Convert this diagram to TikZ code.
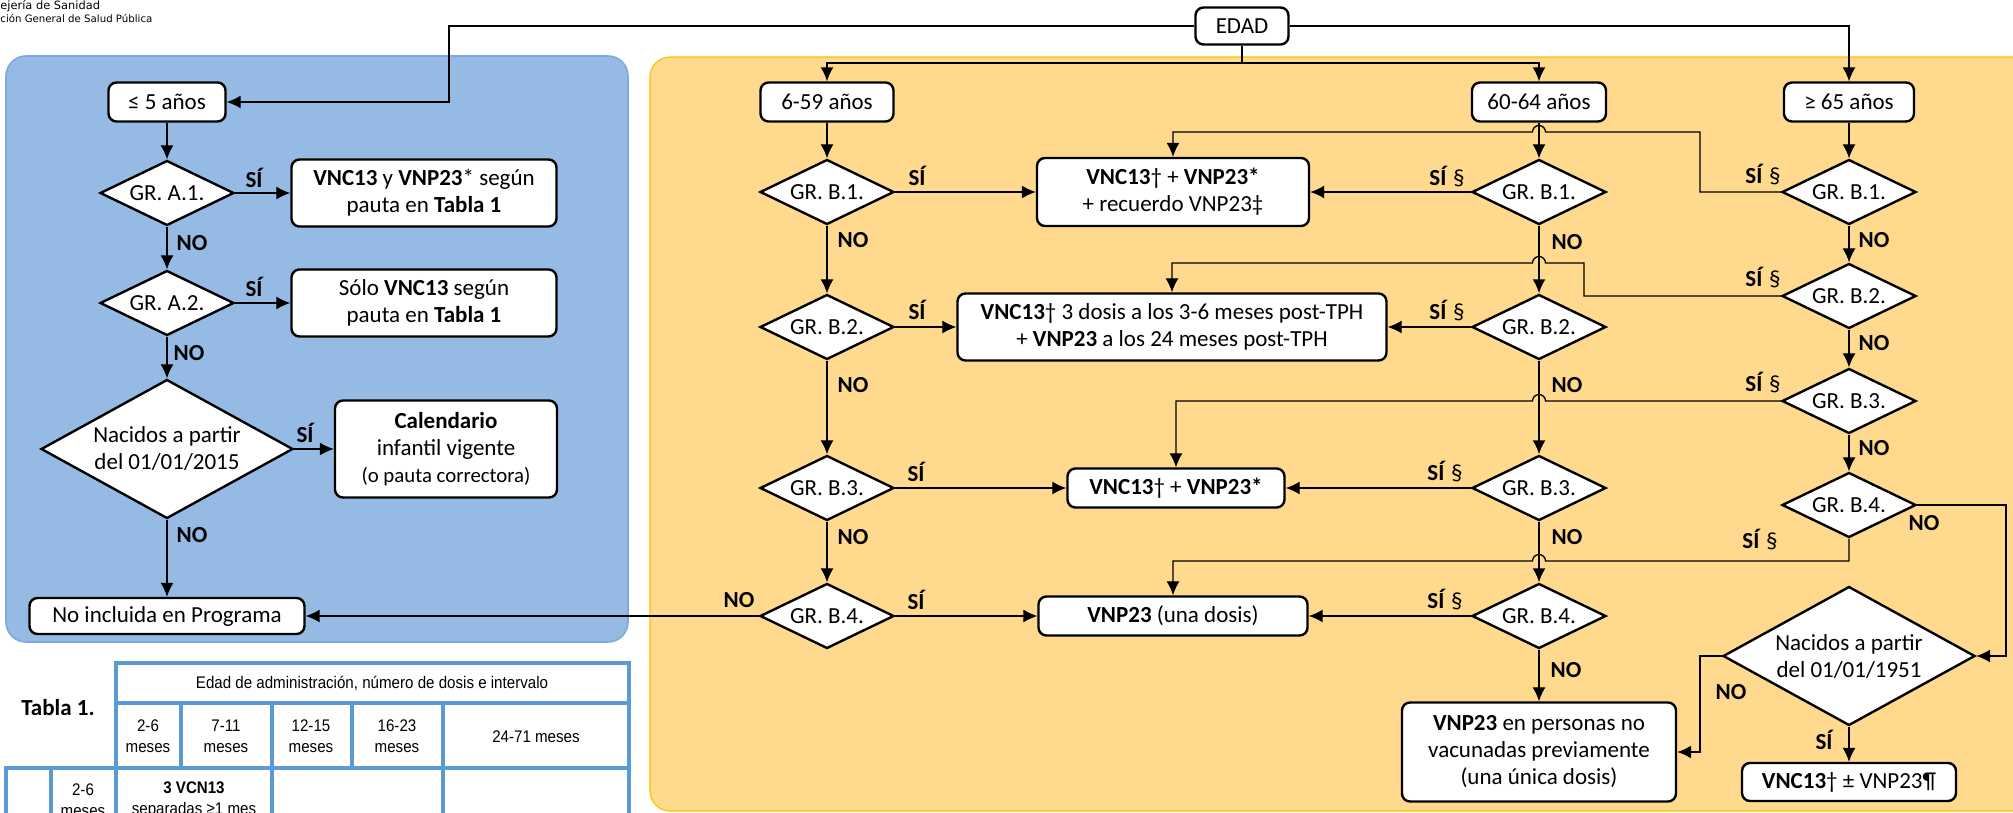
\documentclass[tikz,border=0pt]{standalone}
\usepackage{fontspec}
\setmainfont{Carlito}
\newfontfamily\tabfont[FakeStretch=0.9]{Liberation Sans}
\newfontfamily\logofont{DejaVu Sans}
\usetikzlibrary{shapes.geometric,arrows.meta}
\definecolor{panelblue}{HTML}{95BBE4}
\definecolor{paneledge}{HTML}{7EA9DC}
\definecolor{panelgold}{HTML}{FFD98E}
\definecolor{goldedge}{HTML}{FFC000}
\definecolor{tabblue}{HTML}{5B9BD5}
\newcommand{\mainfs}{\fontsize{11.5}{13.5}\selectfont}
\begin{document}
\begin{tikzpicture}[x=0.5pt,y=-0.5pt,>={Latex[length=7pt,width=6.5pt]},font=\mainfs,
  box/.style={draw,line width=1.2pt,rounded corners=4pt,fill=white,align=center,inner sep=1pt},
  cond/.style={diamond,draw,line width=1.2pt,fill=white,align=center,inner sep=0pt,shape aspect=1.8,minimum width=67pt,minimum height=32.5pt},
  bigcond/.style={cond,minimum width=126pt,minimum height=69.5pt},
  conn/.style={->,line width=0.65pt},
  lbl/.style={font=\mainfs\bfseries,inner sep=0pt},
  tab/.style={font=\tabfont\fontsize{8.4}{10.5}\selectfont,align=center,inner sep=0pt},
  tabline/.style={tabblue,line width=2pt}]
\useasboundingbox (0,0) rectangle (2013,813);
% header
\node[anchor=base west,inner sep=0pt,font=\logofont\fontsize{5.7}{6}\selectfont] (logoa) at (0,9.5) {ejería de Sanidad};
\node[anchor=base west,inner sep=0pt,font=\logofont\fontsize{5.1}{6}\selectfont] (logob) at (0,22.5) {ción General de Salud Pública};
% panels
\filldraw[fill=panelblue,draw=paneledge,line width=0.8pt,rounded corners=10pt] (6,56) rectangle (628,642);
\filldraw[fill=panelgold,draw=goldedge,line width=0.6pt,rounded corners=10pt] (650,57) rectangle (2040,811);
% age boxes
\node[box,minimum width=46.5pt,minimum height=18.5pt] (edad) at (1242,26) {EDAD};
\node[box,minimum width=58.5pt,minimum height=19.5pt] (le5) at (167,102) {≤ 5 años};
\node[box,minimum width=66.5pt,minimum height=19.5pt] (a659) at (827,102) {6-59 años};
\node[box,minimum width=67pt,minimum height=19.5pt] (a6064) at (1539,102) {60-64 años};
\node[box,minimum width=65pt,minimum height=19.5pt] (a65) at (1849,102) {≥ 65 años};
% children
\node[cond] (ga1) at (167,193) {GR. A.1.};
\node[cond] (ga2) at (167,303) {GR. A.2.};
\node[bigcond] (nac15) at (167,449) {Nacidos a partir\\del 01/01/2015};
\node[box,minimum width=132.5pt,minimum height=33.5pt] (ra1) at (424,193) {\textbf{VNC13} y \textbf{VNP23}* según\\pauta en \textbf{Tabla 1}};
\node[box,minimum width=132.5pt,minimum height=33.5pt] (ra2) at (424,303) {Sólo \textbf{VNC13} según\\pauta en \textbf{Tabla 1}};
\node[box,minimum width=111pt,minimum height=48.5pt] (cal) at (446,449) {\textbf{Calendario}\\infantil vigente\\{\fontsize{10.4}{12}\selectfont(o pauta correctora)}};
\node[box,minimum width=137.5pt,minimum height=18pt] (noinc) at (167,616) {No incluida en Programa};
% 6-59 and 60-64
\foreach \y/\g in {192/1,327/2,488/3,616/4}
{
    \node[cond] (gb\g a) at (827,\y) {GR. B.\g.};
    \node[cond] (gb\g b) at (1539,\y) {GR. B.\g.};
}
\node[box,minimum width=136pt,minimum height=34pt] (rb1) at (1173,192) {\textbf{VNC13}† + \textbf{VNP23*}\\+ recuerdo VNP23‡};
\node[box,minimum width=214.5pt,minimum height=33.5pt] (rb2) at (1172,327) {\textbf{VNC13}† 3 dosis a los 3-6 meses post-TPH\\+ \textbf{VNP23} a los 24 meses post-TPH};
\node[box,minimum width=108.5pt,minimum height=19.5pt] (rb3) at (1176,488) {\textbf{VNC13}† + \textbf{VNP23*}};
\node[box,minimum width=134.5pt,minimum height=19.5pt] (rb4) at (1173,616) {\textbf{VNP23} (una dosis)};
\node[box,minimum width=137pt,minimum height=49.5pt] (vnp) at (1539,752) {\textbf{VNP23} en personas no\\vacunadas previamente\\(una única dosis)};
% 65+
\foreach \y/\g in {192/1,296/2,401/3,505/4}
{
    \node[cond] (gb\g c) at (1849,\y) {GR. B.\g.};
}
\node[bigcond] (nac51) at (1849,656) {Nacidos a partir\\del 01/01/1951};
\node[box,minimum width=107pt,minimum height=19pt] (fin) at (1849,782) {\textbf{VNC13}† ± VNP23¶};
% connectors
\coordinate (split) at (1242,63);
\coordinate (turnk) at (449,102);
\coordinate (k1) at (1700,132);
\coordinate (k2) at (1584,263);
\coordinate (k4) at (1849,561);
\coordinate (k5) at (2006,505);
\coordinate (k6) at (1700,656);
\draw[conn] (edad.west) -| (turnk) -- (le5.east);
\draw[conn] (edad.east) -| (a65.north);
\draw[line width=0.65pt] (edad.south) -- (split);
\draw[conn,line width=0.9pt] (split) -| (a659.north);
\draw[conn,line width=0.9pt] (split) -| (a6064.north);
\draw[conn] (le5) -- (ga1);
\draw[conn] (ga1) -- (ga2);
\draw[conn] (ga2) -- (nac15);
\draw[conn] (nac15) -- (noinc);
\draw[conn] (ga1) -- (ra1);
\draw[conn] (ga2) -- (ra2);
\draw[conn] (nac15) -- (cal);
\draw[conn] (a659) -- (gb1a);
\draw[conn] (a6064) -- (gb1b);
\draw[conn] (a65) -- (gb1c);
\foreach \g/\h in {1/2,2/3,3/4}
{
    \draw[conn] (gb\g a) -- (gb\h a);
    \draw[conn,line width=0.9pt] (gb\g b) -- (gb\h b);
    \draw[conn] (gb\g c) -- (gb\h c);
}
\foreach \g in {1,2,3,4}
{
    \draw[conn] (gb\g a) -- (rb\g);
    \draw[conn] (gb\g b) -- (rb\g);
}
\draw[conn] (gb4a) -- (noinc);
\draw[conn] (gb4b) -- (vnp);
\draw[conn] (gb1c.west) -| (k1) -- (1545.5,132) arc[start angle=0,end angle=-180,radius=6.5] -- (rb1.north |- k1) -- (rb1.north);
\draw[conn] (gb2c.west) -| (k2) -- (1545.5,263) arc[start angle=0,end angle=-180,radius=6.5] -- (rb2.north |- k2) -- (rb2.north);
\draw[conn] (gb3c.west) -- (1545.5,401) arc[start angle=0,end angle=-180,radius=6.5] -- (rb3.north |- gb3c.west) -- (rb3.north);
\draw[conn] (gb4c.south) -- (k4) -- (1545.5,561) arc[start angle=0,end angle=-180,radius=6.5] -- (rb4.north |- k4) -- (rb4.north);
\draw[conn] (gb4c.east) -- (k5) |- (nac51.east);
\draw[conn] (nac51.west) -- (k6) |- (vnp.east);
\draw[conn] (nac51) -- (fin);
% labels
\foreach \x/\y/\n in {254/178/1,254/287/2,305/433/3,917/176/4,917/310/5,916/472/6,916/600/7,1824/740/8}
{
    \node[lbl] (si\n) at (\x,\y) {SÍ};
}
\foreach \x/\y/\n in {1447/177/1,1447/311/2,1445/472/3,1445/600/4,1763/175/5,1763/278/6,1763/383/7,1760/540/8}
{
    \node[lbl] (sis\n) at (\x,\y) {SÍ \textmd{§}};
}
\foreach \x/\y/\n in {192/243/1,189/353/2,192/535/3,853/240/4,853/385/5,853/537/6,739/600/7,1567/242/8,1567/385/9,1567/537/10,1566/670/11,1874/240/12,1874/343/13,1874/448/14,1924/523/15,1731/692/16}
{
    \node[lbl] (no\n) at (\x,\y) {NO};
}
% table 1
\draw[tabline] (116,830) -- (116,663) -- (629,663) -- (629,830);
\draw[tabline] (116,703) -- (629,703);
\draw[tabline] (6,830) -- (6,768) -- (629,768);
\foreach \x in {181,272,352,443}
{
    \draw[tabline] (\x,703) -- (\x,768);
}
\foreach \x in {51,272,443}
{
    \draw[tabline] (\x,768) -- (\x,830);
}
\node[lbl] (tabt) at (58,708) {Tabla 1.};
\node[tab] (thead) at (372,683) {Edad de administración, número de dosis e intervalo};
\foreach \x/\xtext in {148/2-6,226/7-11,311/12-15,397/16-23}
{
    \node[tab] (m\x) at (\x,736) {\xtext\\meses};
}
\node[tab] (m536) at (536,737) {24-71 meses};
\node[tab] (rowa) at (83,800) {2-6\\meses};
\node[tab] (rowb) at (194,800) {\textbf{3 VCN13}\\separadas ≥1 mes};
\end{tikzpicture}
\end{document}
